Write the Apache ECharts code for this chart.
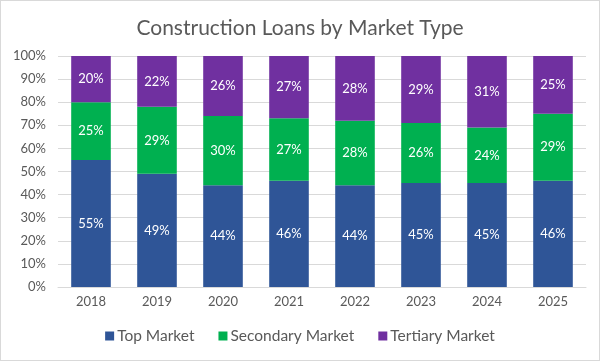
<!DOCTYPE html>
<html><head><meta charset="utf-8">
<script src="https://cdn.jsdelivr.net/npm/echarts@6/dist/echarts.min.js"></script>
<style>html,body{margin:0;padding:0;background:#fff}#c{width:600px;height:361px;box-sizing:border-box;border:1px solid #d9d9d9}</style>
</head><body><div id="c"></div>
<script>
const years = ['2018','2019','2020','2021','2022','2023','2024','2025'];
const topMarket = [55,49,44,46,44,45,45,46];
const secondaryMarket = [25,29,30,27,28,26,24,29];
const tertiaryMarket = [20,22,26,27,28,29,31,25];
const seriesNames = ['Top Market','Secondary Market','Tertiary Market'];
const colors = ['#2F5597','#00B050','#7030A0'];
const chart = echarts.init(document.getElementById('c'));
const F = 'Lato';
const mk = (name, data, color) => ({
  name, type:'bar', stack:'a', data, barWidth:'60%',
  itemStyle:{color},
  label:{show:true, position:'inside', color:'#fff', fontFamily:F, fontSize:13, formatter:p=>p.value+'%'}
});
chart.setOption({
  animation:false,
  title:{text:'Construction Loans by Market Type', left:'center', top:12,
    textStyle:{fontFamily:F, fontSize:21, fontWeight:'normal', color:'#595959'}},
  legend:{bottom:11, itemWidth:9, itemHeight:9, itemGap:24, icon:'rect',
    textStyle:{fontFamily:F, fontSize:15.5, color:'#595959', padding:[0,0,0,-2]}, data:seriesNames},
  grid:{left:57, right:13, top:55, bottom:73},
  xAxis:{type:'category', data:years, axisTick:{show:false},
    axisLine:{lineStyle:{color:'#d9d9d9'}},
    axisLabel:{fontFamily:F, fontSize:13, color:'#595959', margin:8}},
  yAxis:{type:'value', min:0, max:100, interval:10,
    axisLabel:{fontFamily:F, fontSize:13, color:'#595959', formatter:'{value}%', margin:12},
    splitLine:{lineStyle:{color:'#d9d9d9'}}},
  series:[mk(seriesNames[0], topMarket, colors[0]), mk(seriesNames[1], secondaryMarket, colors[1]), mk(seriesNames[2], tertiaryMarket, colors[2])]
});
</script></body></html>
